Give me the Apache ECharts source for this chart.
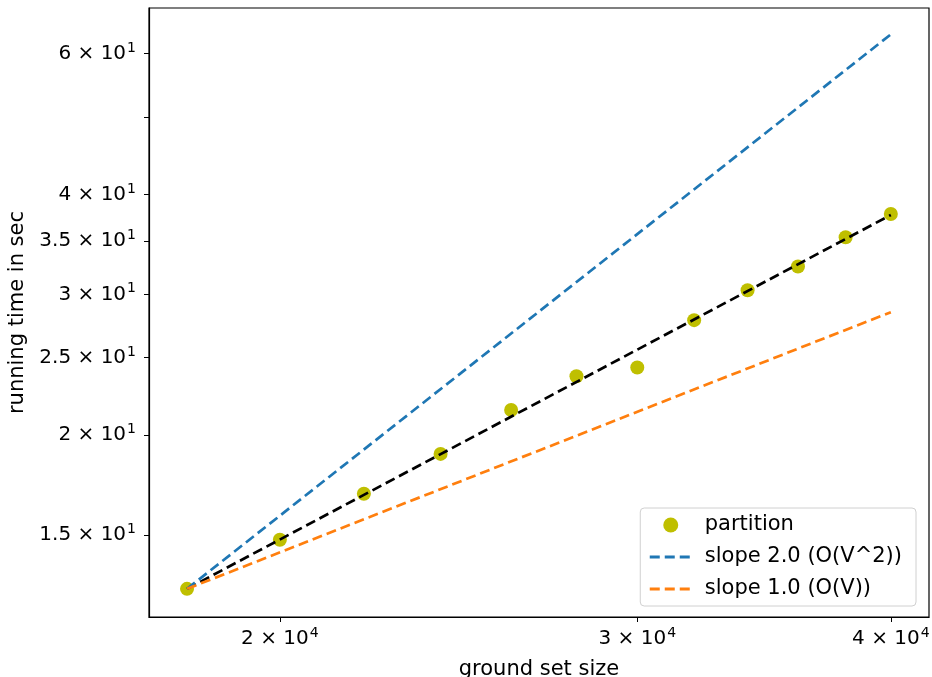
<!DOCTYPE html>
<html>
<head>
<meta charset="utf-8">
<script src="https://cdn.jsdelivr.net/npm/echarts@6/dist/echarts.min.js"></script>
<style>
  html, body { margin: 0; padding: 0; background: #fff; }
  #main { width: 932px; height: 677px; }
</style>
</head>
<body>
<div id="main"></div>
<script>
// ground set size vs running time
var sizes = [18000, 20000, 22000, 24000, 26000, 28000, 30000, 32000, 34000, 36000, 38000, 40000]
var times = [12.85, 14.8, 16.9, 18.95, 21.5, 23.7, 24.3, 27.85, 30.35, 32.5, 35.35, 37.8]
// straight lines in log-log space, given by their two end points
var fitLine = [[18000, 12.85], [40000, 37.7]]
var slope2Line = [[18000, 12.85], [40000, 63.4]]
var slope1Line = [[18000, 12.85], [40000, 28.5]]
var xTicks = [20000, 30000, 40000]
var yTicks = [15, 20, 25, 30, 35, 40, 60]
var yMinorTicks = [50]

function sciLabel (v) {
  var e = Math.floor(Math.log10(v) + 1e-9)
  var m = Math.round(v / Math.pow(10, e) * 10) / 10
  return '{m|' + m + ' × 10}{e|' + e + '}'
}
var rich = {
  m: { fontSize: 20, fontFamily: 'DejaVu Sans', color: '#000' },
  e: { fontSize: 14, fontFamily: 'DejaVu Sans', color: '#000', padding: [0, 0, 11, 1] }
}

var myChart = echarts.init(document.getElementById('main'))
var option = {
  animation: false,
  textStyle: { fontFamily: 'DejaVu Sans' },
  grid: {
    left: 149, top: 8, right: 3, bottom: 60,
    outerBoundsMode: 'none',
    show: true, borderColor: '#000', borderWidth: 1.2, backgroundColor: '#fff'
  },
  legend: {
    data: [
      { name: 'partition', icon: 'circle', itemStyle: { color: '#bfbf00' } },
      { name: 'slope 2.0 (O(V^2))', itemStyle: { opacity: 0 } },
      { name: 'slope 1.0 (O(V))', itemStyle: { opacity: 0 } }
    ],
    orient: 'vertical',
    right: 16, bottom: 71,
    itemWidth: 42, itemHeight: 15, itemGap: 8,
    padding: [5, 14, 5, 8],
    backgroundColor: '#fff',
    borderColor: '#d0d0d0', borderWidth: 1, borderRadius: 4,
    lineStyle: { width: 3, type: [10, 5] },
    textStyle: { fontSize: 21, fontFamily: 'DejaVu Sans', color: '#000', lineHeight: 24, padding: [0, 0, 0, 8] }
  },
  xAxis: {
    type: 'log',
    min: 17240, max: 41770,
    name: 'ground set size',
    nameLocation: 'middle', nameGap: 42,
    nameTextStyle: { fontSize: 21, color: '#000' },
    axisLine: { lineStyle: { color: '#000', width: 1.2 } },
    axisTick: { show: true, length: 5, customValues: xTicks, lineStyle: { color: '#000' } },
    axisLabel: { margin: 9, fontSize: 20, customValues: xTicks, formatter: sciLabel, rich: rich },
    splitLine: { show: false },
    minorTick: { show: false }
  },
  yAxis: {
    type: 'log',
    min: 11.85, max: 68.4,
    name: 'running time in sec',
    nameLocation: 'middle', nameGap: 119,
    nameTextStyle: { fontSize: 21, color: '#000' },
    axisLine: { lineStyle: { color: '#000', width: 1.2 } },
    axisTick: { show: true, length: 5, customValues: yTicks.concat(yMinorTicks), lineStyle: { color: '#000' } },
    axisLabel: { margin: 13, fontSize: 20, customValues: yTicks, formatter: sciLabel, rich: rich },
    splitLine: { show: false },
    minorTick: { show: false }
  },
  series: [
    {
      name: 'fit',
      type: 'line',
      data: fitLine,
      symbol: 'none',
      lineStyle: { color: '#000', width: 2.7, type: [10, 5] },
      z: 3
    },
    {
      name: 'slope 2.0 (O(V^2))',
      type: 'line',
      data: slope2Line,
      symbol: 'none',
      itemStyle: { color: '#1f77b4' },
      lineStyle: { color: '#1f77b4', width: 2.7, type: [10, 5] },
      z: 3
    },
    {
      name: 'slope 1.0 (O(V))',
      type: 'line',
      data: slope1Line,
      symbol: 'none',
      itemStyle: { color: '#ff7f0e' },
      lineStyle: { color: '#ff7f0e', width: 2.7, type: [10, 5] },
      z: 3
    },
    {
      name: 'partition',
      type: 'scatter',
      data: sizes.map(function (s, i) { return [s, times[i]] }),
      symbolSize: 14,
      itemStyle: { color: '#bfbf00', opacity: 1 },
      z: 1
    }
  ]
}
myChart.setOption(option)
</script>
</body>
</html>
